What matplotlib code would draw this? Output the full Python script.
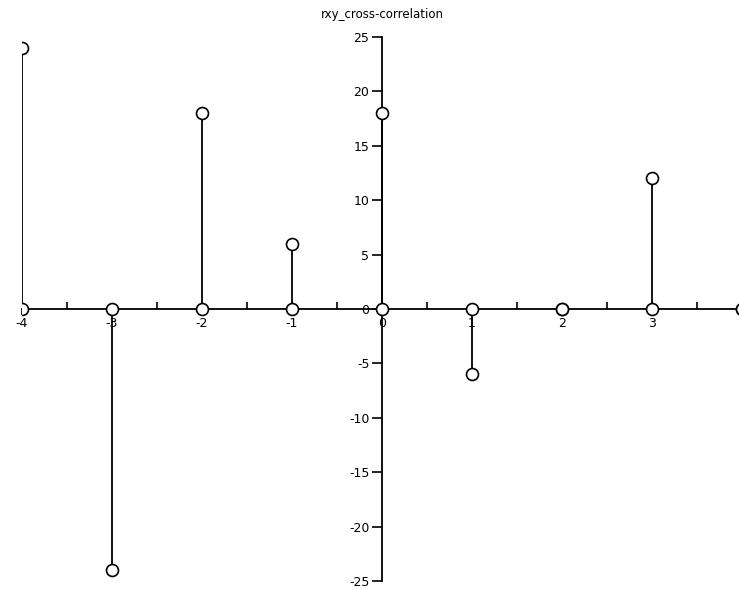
import matplotlib
matplotlib.use("Agg")
import matplotlib.pyplot as plt
import numpy as np
from matplotlib.ticker import MultipleLocator

plt.rcParams["axes.unicode_minus"] = False

# cross-correlation lags and values
lags = [-4, -3, -2, -1, 0, 1, 2, 3, 4]
rxy = [24, -24, 18, 6, 18, -6, 0, 12, 0]
y_ticks = [-25, -20, -15, -10, -5, 0, 5, 10, 15, 20, 25]
x_ticks = [-4, -3, -2, -1, 0, 1, 2, 3, 4]

W, H = 739, 590
fig = plt.figure(figsize=(W / 100, H / 100), dpi=100)
left, right = 22, 742
top, bottom = 37, 581
ax = fig.add_axes([left / W, (H - bottom) / H, (right - left) / W, (bottom - top) / H])

ax.set_xlim(-4, 4)
ax.set_ylim(-25, 25)

# axes crossing at the origin
for s in ("top", "right"):
    ax.spines[s].set_visible(False)
ax.spines["left"].set_position(("data", 0))
ax.spines["bottom"].set_position(("data", 0))
for s in ("left", "bottom"):
    ax.spines[s].set_linewidth(1.3)
    ax.spines[s].set_color("black")
    ax.spines[s].set_zorder(2)

ax.set_yticks(y_ticks)
ax.set_xticks(x_ticks)
ax.xaxis.set_minor_locator(MultipleLocator(0.5))
ax.tick_params(axis="y", direction="out", length=7, width=1.2, labelsize=9, pad=2)
ax.tick_params(axis="x", which="major", direction="out", length=4, width=1.2,
               labelsize=9, pad=2)
ax.tick_params(axis="x", which="minor", direction="in", length=5, width=1.2)

# stems
ax.vlines(lags, 0, rxy, colors="black", linewidth=1.3, zorder=3)
# markers at the tips and on the baseline, clipped exactly at the axes edge
for ys in (np.zeros(len(lags)), rxy):
    sc = ax.scatter(lags, ys, s=8.6 ** 2, facecolors="white",
                    edgecolors="black", linewidths=1.2, zorder=4)
    sc.set_clip_path(ax.patch)

ax.set_title("rxy_cross-correlation", fontsize=8.5, pad=14)

fig.savefig("out.png", dpi=100)
